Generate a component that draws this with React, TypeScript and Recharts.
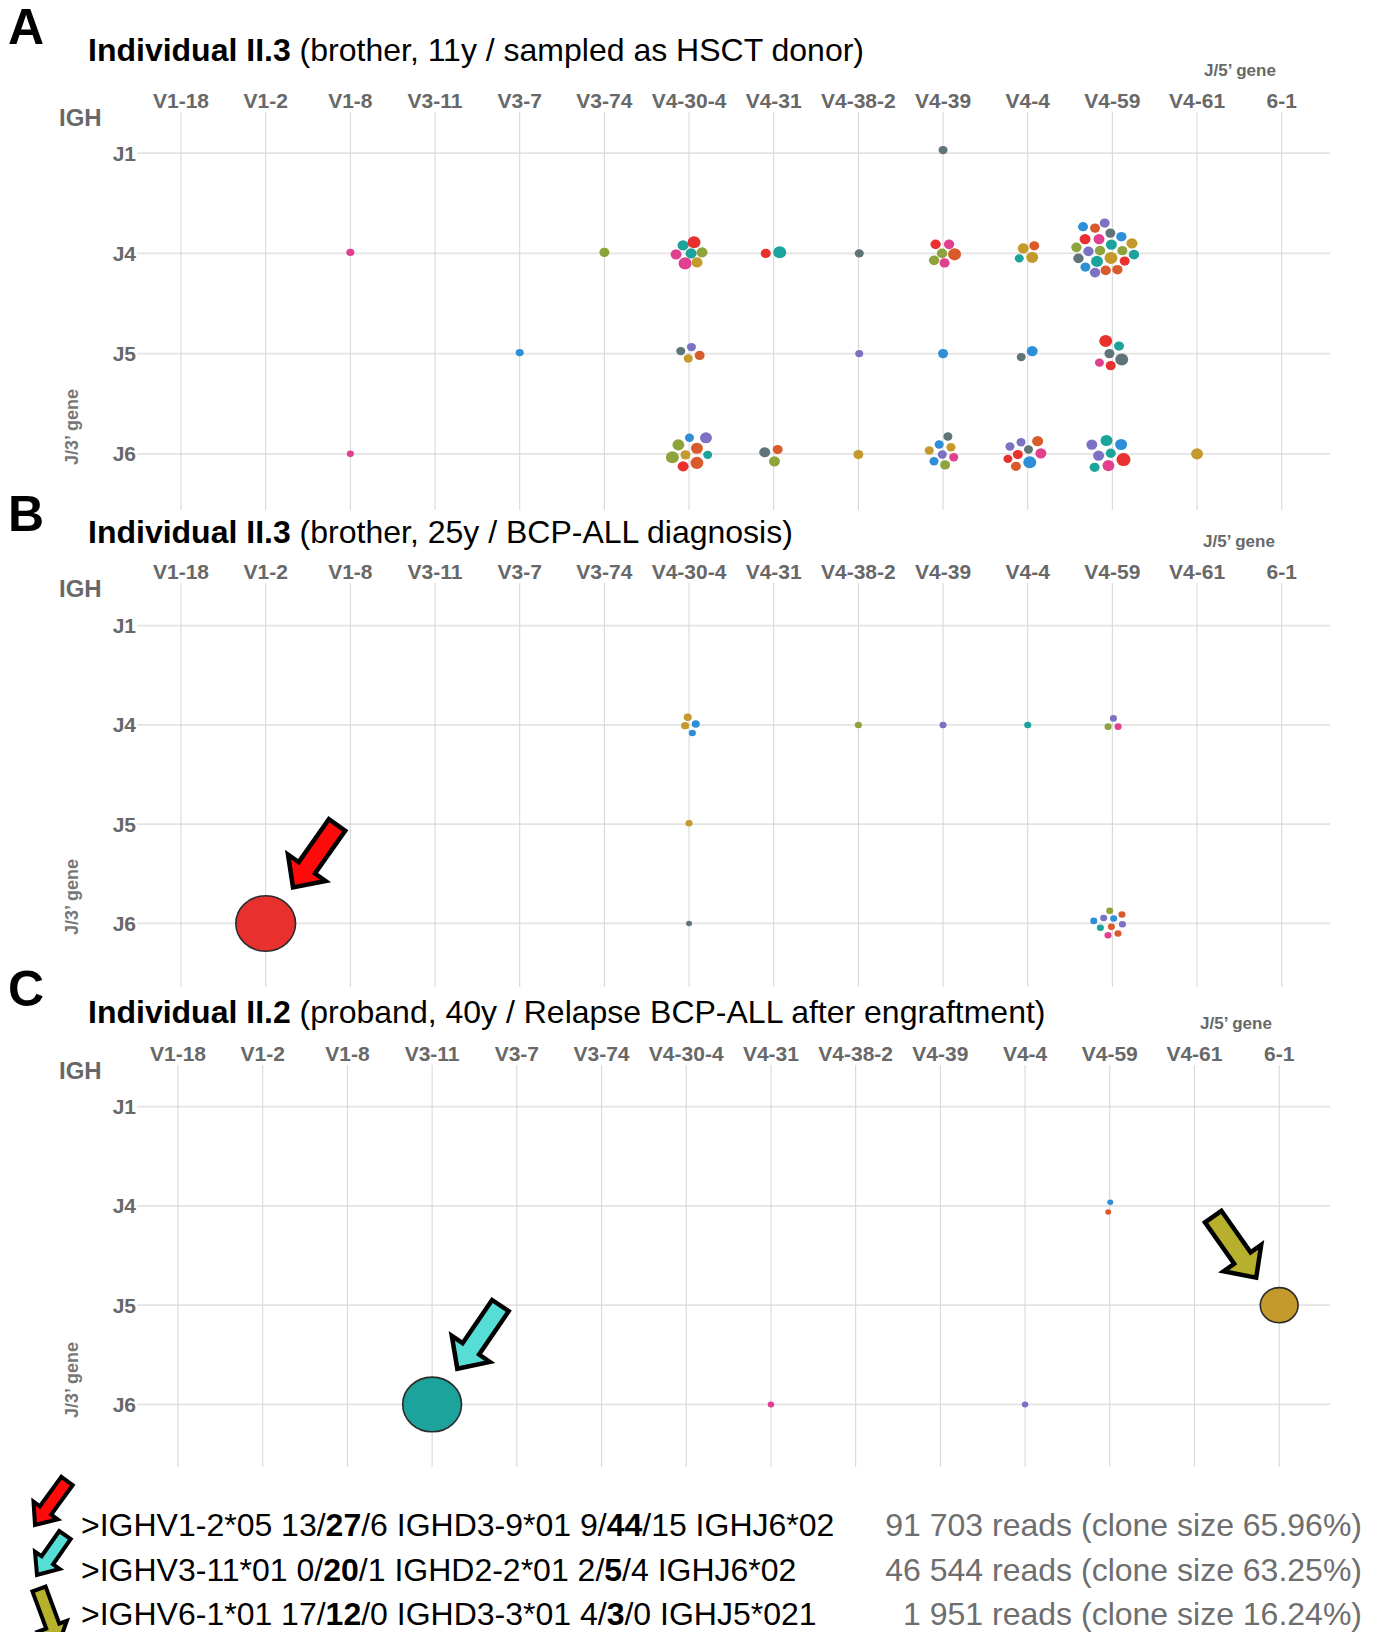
import React from 'react';
import { ScatterChart, Scatter, XAxis, YAxis, ZAxis, CartesianGrid } from 'recharts';

// ---------- data ----------
const V_GENES = ['V1-18', 'V1-2', 'V1-8', 'V3-11', 'V3-7', 'V3-74', 'V4-30-4', 'V4-31', 'V4-38-2', 'V4-39', 'V4-4', 'V4-59', 'V4-61', '6-1'];
const J_GENES = ['J1', 'J4', 'J5', 'J6'];
const PALETTE = ['#E8312F', '#D95A2B', '#1BA39C', '#8DA33B', '#C49A2C', '#E0408F', '#2E8FD8', '#7B72C4', '#5F7478'];

// each clone: [jitter dx (category units), jitter dy (category units), relative clone size, palette index]
type Clone = [number, number, number, number];
type Cluster = { v: string; j: string; clones: Clone[] };

const PANEL_A: Cluster[] = [
  { v: 'V4-39', j: 'J1', clones: [[0, -0.03, 2.3, 8]] },
  { v: 'V1-8', j: 'J4', clones: [[0, -0.01, 1.8, 5]] },
  { v: 'V3-74', j: 'J4', clones: [[0, -0.01, 2.8, 3]] },
  { v: 'V4-30-4', j: 'J4', clones: [[-0.071, -0.08, 3.4, 2], [0.059, -0.11, 4.7, 0], [-0.153, 0.01, 3.4, 5], [0.024, 0, 3.4, 2], [0.153, -0.01, 3.4, 3], [-0.047, 0.1, 4.7, 5], [0.094, 0.09, 3.4, 4]] },
  { v: 'V4-31', j: 'J4', clones: [[-0.094, 0, 2.8, 0], [0.071, -0.01, 4.7, 2]] },
  { v: 'V4-38-2', j: 'J4', clones: [[0.01, 0, 2.3, 8]] },
  { v: 'V4-39', j: 'J4', clones: [[-0.088, -0.09, 3.0, 0], [0.071, -0.09, 3.0, 5], [-0.012, 0, 3.0, 3], [0.136, 0.01, 4.7, 1], [-0.106, 0.07, 3.0, 3], [0.018, 0.095, 2.8, 5]] },
  { v: 'V4-4', j: 'J4', clones: [[-0.053, -0.05, 3.4, 4], [0.077, -0.075, 2.8, 1], [-0.1, 0.05, 2.3, 2], [0.053, 0.04, 4.0, 4]] },
  {
    v: 'V4-59', j: 'J4', clones: [
      [-0.347, -0.266, 2.8, 6], [-0.205, -0.252, 2.8, 1], [-0.091, -0.302, 2.8, 7], [-0.323, -0.143, 3.4, 0],
      [-0.158, -0.143, 3.4, 5], [-0.024, -0.202, 2.8, 8], [0.106, -0.166, 3.0, 6], [-0.012, -0.087, 3.4, 2],
      [0.231, -0.1, 3.4, 4], [-0.425, -0.06, 3.0, 3], [-0.283, -0.02, 3.0, 7], [-0.146, -0.027, 3.0, 3],
      [0.118, -0.027, 2.8, 3], [0.255, 0.013, 3.0, 2], [-0.401, 0.05, 3.0, 8], [-0.182, 0.08, 4.0, 2],
      [-0.017, 0.047, 4.7, 4], [0.145, 0.077, 2.8, 0], [-0.319, 0.137, 2.8, 6], [-0.205, 0.192, 3.0, 7],
      [-0.079, 0.17, 3.0, 1], [0.059, 0.163, 3.0, 1],
    ],
  },
  { v: 'V3-7', j: 'J5', clones: [[0, -0.01, 1.8, 6]] },
  { v: 'V4-30-4', j: 'J5', clones: [[-0.098, -0.025, 2.3, 8], [0.028, -0.065, 2.3, 7], [-0.009, 0.048, 2.3, 4], [0.125, 0.018, 2.8, 1]] },
  { v: 'V4-38-2', j: 'J5', clones: [[0.01, 0, 1.8, 7]] },
  { v: 'V4-39', j: 'J5', clones: [[0, 0, 2.8, 6]] },
  { v: 'V4-4', j: 'J5', clones: [[-0.077, 0.035, 2.3, 8], [0.053, -0.025, 3.4, 6]] },
  { v: 'V4-59', j: 'J5', clones: [[-0.079, -0.125, 4.7, 0], [0.078, -0.075, 2.8, 2], [-0.035, 0, 2.8, 8], [0.11, 0.058, 4.7, 8], [-0.153, 0.09, 2.3, 5], [-0.02, 0.12, 2.8, 0]] },
  { v: 'V1-8', j: 'J6', clones: [[0, 0, 1.4, 5]] },
  { v: 'V4-30-4', j: 'J6', clones: [[0.005, -0.16, 2.3, 6], [0.2, -0.16, 4.0, 7], [-0.126, -0.09, 4.0, 3], [0.093, -0.056, 4.0, 1], [-0.197, 0.034, 4.7, 3], [-0.042, 0.01, 2.8, 4], [0.22, 0.01, 2.3, 2], [-0.07, 0.124, 3.4, 0], [0.093, 0.09, 4.7, 1]] },
  { v: 'V4-31', j: 'J6', clones: [[-0.106, -0.016, 3.4, 8], [0.047, -0.043, 2.8, 1], [0.009, 0.074, 3.4, 3]] },
  { v: 'V4-38-2', j: 'J6', clones: [[0, 0.007, 2.8, 4]] },
  { v: 'V4-39', j: 'J6', clones: [[0.057, -0.173, 2.3, 8], [-0.046, -0.093, 2.3, 6], [0.093, -0.066, 2.3, 4], [-0.163, -0.033, 2.3, 4], [-0.009, 0.007, 2.3, 7], [0.126, 0.034, 2.3, 5], [-0.107, 0.074, 2.3, 6], [0.024, 0.11, 2.8, 3]] },
  { v: 'V4-4', j: 'J6', clones: [[-0.21, -0.073, 2.3, 7], [-0.079, -0.116, 2.3, 7], [0.117, -0.126, 3.4, 1], [0.009, -0.043, 2.3, 8], [0.155, -0.006, 3.4, 5], [-0.117, 0.007, 2.8, 0], [-0.234, 0.05, 2.3, 0], [0.024, 0.084, 4.7, 6], [-0.139, 0.124, 2.8, 1]] },
  { v: 'V4-59', j: 'J6', clones: [[-0.243, -0.093, 3.4, 7], [-0.07, -0.133, 4.0, 2], [0.103, -0.093, 4.0, 6], [-0.163, 0.017, 3.4, 7], [-0.019, -0.006, 2.8, 2], [0.131, 0.057, 5.5, 0], [-0.21, 0.134, 2.8, 2], [-0.047, 0.117, 4.0, 5]] },
  { v: 'V4-61', j: 'J6', clones: [[0, 0, 4.0, 4]] },
];

const PANEL_B: Cluster[] = [
  { v: 'V4-30-4', j: 'J4', clones: [[-0.015, -0.077, 1.8, 4], [-0.047, 0.007, 1.8, 4], [0.079, -0.01, 1.8, 6], [0.039, 0.081, 1.4, 6]] },
  { v: 'V4-38-2', j: 'J4', clones: [[0, 0, 1.4, 3]] },
  { v: 'V4-39', j: 'J4', clones: [[0, 0, 1.4, 7]] },
  { v: 'V4-4', j: 'J4', clones: [[0, 0, 1.4, 2]] },
  { v: 'V4-59', j: 'J4', clones: [[0.012, -0.066, 1.4, 7], [-0.051, 0.017, 1.4, 3], [0.067, 0.017, 1.4, 5]] },
  { v: 'V4-30-4', j: 'J5', clones: [[0, -0.01, 1.4, 4]] },
  { v: 'V1-2', j: 'J6', clones: [[0, 0, 100, 0]] },
  { v: 'V4-30-4', j: 'J6', clones: [[0, 0, 1.0, 8]] },
  { v: 'V4-59', j: 'J6', clones: [[-0.032, -0.127, 1.4, 3], [-0.103, -0.056, 1.4, 7], [0.113, -0.091, 1.4, 1], [-0.22, -0.026, 1.4, 6], [0.015, -0.05, 1.4, 6], [-0.142, 0.044, 1.4, 2], [-0.012, 0.034, 1.4, 1], [0.118, 0.007, 1.4, 7], [-0.052, 0.118, 1.4, 5], [0.066, 0.101, 1.4, 1]] },
];

const PANEL_C: Cluster[] = [
  { v: 'V4-59', j: 'J4', clones: [[0.006, -0.037, 1.0, 6], [-0.018, 0.06, 1.0, 1]] },
  { v: '6-1', j: 'J5', clones: [[0, 0, 40, 4]] },
  { v: 'V3-11', j: 'J6', clones: [[0, 0, 97, 2]] },
  { v: 'V4-31', j: 'J6', clones: [[0, 0, 1.2, 5]] },
  { v: 'V4-4', j: 'J6', clones: [[0, 0, 1.2, 7]] },
];

const TITLES = [
  ['Individual II.3', ' (brother, 11y / sampled as HSCT donor)'],
  ['Individual II.3', ' (brother, 25y / BCP-ALL diagnosis)'],
  ['Individual II.2', ' (proband, 40y / Relapse BCP-ALL after engraftment)'],
];

// legend rows: left text parts (odd index = bold), right text
const LEGEND_LEFT = [
  ['>IGHV1-2*05 13/', '27', '/6 IGHD3-9*01 9/', '44', '/15 IGHJ6*02'],
  ['>IGHV3-11*01 0/', '20', '/1 IGHD2-2*01 2/', '5', '/4 IGHJ6*02'],
  ['>IGHV6-1*01 17/', '12', '/0 IGHD3-3*01 4/', '3', '/0 IGHJ5*021'],
];
const LEGEND_RIGHT = ['91 703 reads (clone size 65.96%)', '46 544 reads (clone size 63.25%)', '1 951 reads (clone size 16.24%)'];

// ---------- helpers ----------
const FONT = '"Liberation Sans", Arial, Helvetica, sans-serif';
const AXIS_GREY = '#686868';

const toPoints = (clusters: Cluster[]) =>
  clusters.flatMap((cl) =>
    cl.clones.map(([dx, dy, s, c]) => ({ x: V_GENES.indexOf(cl.v) + dx, y: J_GENES.indexOf(cl.j) + dy, s, c }))
  );

const Dot = (props: any) => {
  const { cx, cy, payload } = props;
  if (cx == null || cy == null) return null;
  const r = props.width ? props.width / 2 : Math.sqrt((props.size || 0) / Math.PI);
  const big = payload.s > 20;
  return (
    <ellipse
      cx={cx}
      cy={cy}
      rx={r}
      ry={r * 0.93}
      fill={PALETTE[payload.c]}
      stroke={big ? '#2b2b2b' : 'none'}
      strokeWidth={big ? 1.6 : 0}
    />
  );
};

const X_TICKS = V_GENES.map((_, i) => i);
const Y_TICKS = J_GENES.map((_, i) => i);

type PanelCfg = {
  letter: string;
  letterTop: number;
  titleY: number;
  geneX: number;
  geneY: number;
  ighY: number;
  j3Y: number;
  plotTop: number;
  plotBottom: number;
  xDomain: [number, number];
  yDomain: [number, number];
  data: Cluster[];
};

const PANELS: PanelCfg[] = [
  { letter: 'A', letterTop: 2, titleY: 50, geneX: 1240, geneY: 70, ighY: 118, j3Y: 427, plotTop: 112, plotBottom: 510, xDomain: [-0.52, 13.57], yDomain: [-0.41, 3.56], data: PANEL_A },
  { letter: 'B', letterTop: 489, titleY: 532, geneX: 1239, geneY: 541, ighY: 589, j3Y: 897, plotTop: 583, plotBottom: 987, xDomain: [-0.52, 13.57], yDomain: [-0.43, 3.64], data: PANEL_B },
  { letter: 'C', letterTop: 964, titleY: 1012, geneX: 1236, geneY: 1023, ighY: 1071, j3Y: 1380, plotTop: 1065, plotBottom: 1467, xDomain: [-0.484, 13.6], yDomain: [-0.42, 3.63], data: PANEL_C },
];

function arrowPoints(tx: number, ty: number, hx: number, hy: number, w: number, W: number, L: number) {
  const dx = hx - tx;
  const dy = hy - ty;
  const len = Math.hypot(dx, dy);
  const ux = dx / len;
  const uy = dy / len;
  const nx = -uy;
  const ny = ux;
  const bx = hx - ux * L;
  const by = hy - uy * L;
  const pts = [
    [tx + nx * w, ty + ny * w],
    [bx + nx * w, by + ny * w],
    [bx + nx * W, by + ny * W],
    [hx, hy],
    [bx - nx * W, by - ny * W],
    [bx - nx * w, by - ny * w],
    [tx - nx * w, ty - ny * w],
  ];
  return pts.map((p) => p.map((v) => v.toFixed(1)).join(',')).join(' ');
}

const ARROWS = [
  { fill: '#FF0A0A', p: [337, 825, 293, 887.4, 10, 23, 24] },
  { fill: '#55DDD6', p: [500.4, 1305.6, 457.3, 1368.7, 10, 23, 24] },
  { fill: '#B7B02C', p: [1213.2, 1216.6, 1256.2, 1277.7, 10, 23, 24] },
  { fill: '#FF0A0A', p: [67, 1481, 35, 1525, 7, 15, 18] },
  { fill: '#55DDD6', p: [65, 1535, 37, 1575, 7, 15, 18] },
  { fill: '#B7B02C', p: [39, 1589, 59, 1643, 7, 15, 18] },
];

const Panel = ({ cfg, index }: { cfg: PanelCfg; index: number }) => {
  const points = toPoints(cfg.data);
  const chartTop = cfg.plotTop - 30;
  const chartHeight = cfg.plotBottom - chartTop;
  return (
    <>
      <div style={{ position: 'absolute', left: 8, top: cfg.letterTop, fontSize: 50, fontWeight: 700, lineHeight: '50px', color: '#000' }}>
        {cfg.letter}
      </div>
      <div style={{ position: 'absolute', left: 88, top: cfg.titleY - 16, fontSize: 32, lineHeight: '32px', color: '#000', whiteSpace: 'nowrap' }}>
        <span style={{ fontWeight: 700 }}>{TITLES[index][0]}</span>
        <span>{TITLES[index][1]}</span>
      </div>
      <div style={{ position: 'absolute', left: cfg.geneX - 60, width: 120, top: cfg.geneY - 8.5, textAlign: 'center', fontSize: 17, lineHeight: '17px', fontWeight: 700, color: AXIS_GREY }}>
        J/5’ gene
      </div>
      <div style={{ position: 'absolute', left: 59, top: cfg.ighY - 12, fontSize: 24, lineHeight: '24px', fontWeight: 700, color: AXIS_GREY }}>IGH</div>
      <div style={{ position: 'absolute', left: 72 - 60, width: 120, top: cfg.j3Y - 9, textAlign: 'center', fontSize: 18, lineHeight: '18px', fontWeight: 700, color: '#777777', transform: 'rotate(-90deg)' }}>
        J/3’ gene
      </div>
      <div style={{ position: 'absolute', left: 0, top: chartTop }}>
        <ScatterChart width={1380} height={chartHeight} margin={{ top: 0, right: 50, bottom: 0, left: 0 }}>
          <CartesianGrid vertical={false} syncWithTicks stroke="#e3e3e3" strokeWidth={1.7} />
          <CartesianGrid horizontal={false} syncWithTicks stroke="#d8d8d8" strokeWidth={1.1} />
          <XAxis
            type="number"
            dataKey="x"
            orientation="top"
            height={30}
            domain={cfg.xDomain}
            allowDataOverflow
            ticks={X_TICKS}
            interval={0}
            tickFormatter={(v: number) => V_GENES[v] ?? ''}
            axisLine={false}
            tickLine={false}
            tickSize={0}
            tickMargin={4}
            tick={{ fill: AXIS_GREY, fontSize: 21, fontWeight: 700, fontFamily: FONT }}
          />
          <YAxis
            type="number"
            dataKey="y"
            width={137}
            domain={cfg.yDomain}
            allowDataOverflow
            reversed
            ticks={Y_TICKS}
            interval={0}
            tickFormatter={(v: number) => J_GENES[v] ?? ''}
            axisLine={false}
            tickLine={false}
            tickSize={0}
            tickMargin={1}
            tick={{ fill: AXIS_GREY, fontSize: 21, fontWeight: 700, fontFamily: FONT }}
          />
          <ZAxis type="number" dataKey="s" domain={[0, 100]} range={[0, 2800]} />
          <Scatter data={points} shape={Dot} isAnimationActive={false} />
        </ScatterChart>
      </div>
    </>
  );
};

export default function App() {
  return (
    <div style={{ position: 'absolute', left: 0, top: 0, width: 1380, height: 1632, background: '#fff', overflow: 'hidden', fontFamily: FONT }}>
      {PANELS.map((cfg, i) => (
        <Panel key={cfg.letter} cfg={cfg} index={i} />
      ))}
      {LEGEND_LEFT.map((parts, i) => (
        <div key={'l' + i} style={{ position: 'absolute', left: 81, top: 1525 + i * 44.5 - 15.7, fontSize: 32, lineHeight: '32px', color: '#000', whiteSpace: 'nowrap' }}>
          {parts.map((p, k) => (
            <span key={k} style={{ fontWeight: k % 2 === 1 ? 700 : 400 }}>{p}</span>
          ))}
        </div>
      ))}
      {LEGEND_RIGHT.map((t, i) => (
        <div key={'r' + i} style={{ position: 'absolute', right: 1380 - 1362, top: 1525 + i * 44.5 - 15.7, fontSize: 32, lineHeight: '32px', color: '#6e6e6e', whiteSpace: 'nowrap', textAlign: 'right' }}>
          {t}
        </div>
      ))}
      <svg width={1380} height={1632} style={{ position: 'absolute', left: 0, top: 0, pointerEvents: 'none' }}>
        {ARROWS.map((a, i) => (
          <polygon
            key={i}
            points={arrowPoints(a.p[0], a.p[1], a.p[2], a.p[3], a.p[4], a.p[5], a.p[6])}
            fill={a.fill}
            stroke="#000"
            strokeWidth={i < 3 ? 4.5 : 4}
            strokeLinejoin="miter"
          />
        ))}
      </svg>
    </div>
  );
}
